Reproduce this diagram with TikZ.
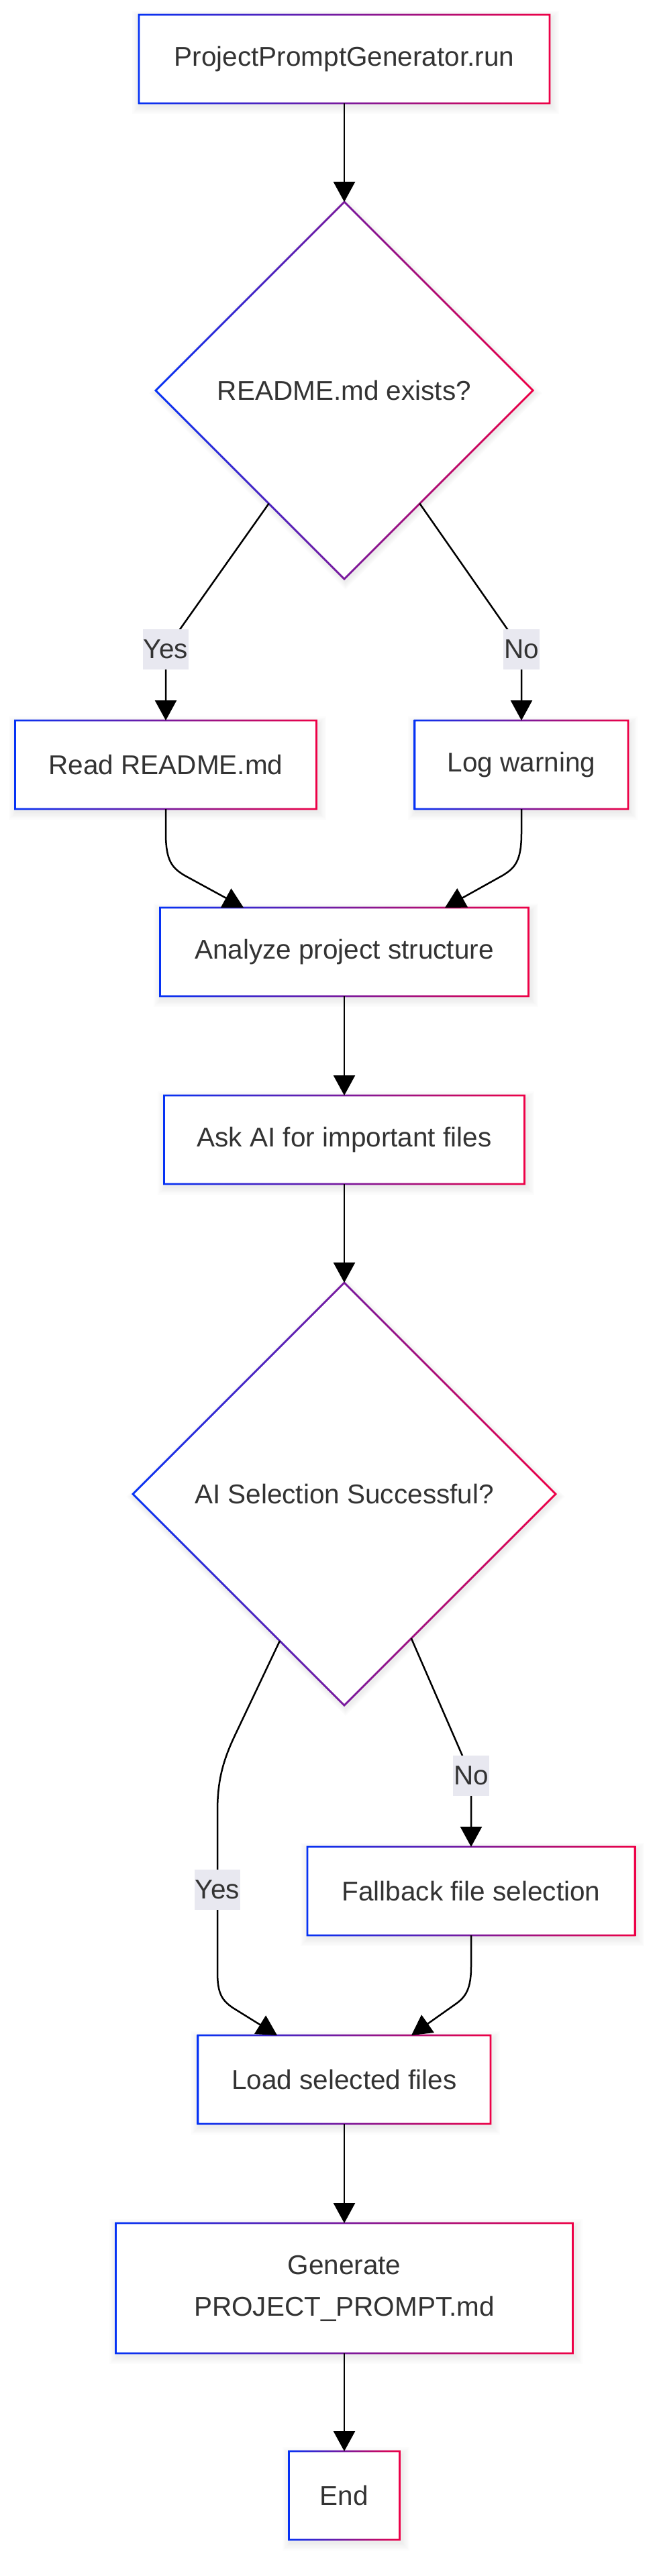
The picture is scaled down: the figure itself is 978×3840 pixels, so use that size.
\documentclass[tikz,border=0pt]{standalone}
\usepackage{fontspec}
\setmainfont{Liberation Sans}
\usetikzlibrary{arrows.meta,shapes.geometric,calc}
\definecolor{cblue}{RGB}{5,50,245}
\definecolor{cred}{RGB}{238,0,70}
\definecolor{ctext}{RGB}{51,51,51}
\definecolor{clbl}{RGB}{232,232,240}
\pgfdeclarelayer{background}
\pgfsetlayers{background,main}

\newcommand{\gradrect}[1]{%
  \foreach \s in {2,4,...,12}{%
    \fill[black,opacity=0.012] ($(#1.north west)+(-\s+2,-\s+6)$) rectangle ($(#1.south east)+(\s+2,\s+4)$);}
  \fill[white] (#1.north west) rectangle (#1.south east);
  \shade[left color=cblue,right color=cred,even odd rule]
  ($(#1.north west)+(-1.4,-1.4)$) rectangle ($(#1.south east)+(1.4,1.4)$)
  ($(#1.north west)+(1.4,1.4)$) rectangle ($(#1.south east)+(-1.4,-1.4)$);}
\newcommand{\graddia}[1]{%
  \foreach \s in {2,4,...,12}{%
    \fill[black,opacity=0.012] ($(#1.north)+(2,-\s+4)$) -- ($(#1.east)+(\s+2,4)$) -- ($(#1.south)+(2,\s+4)$) -- ($(#1.west)+(-\s+2,4)$) -- cycle;}
  \fill[white] (#1.north) -- (#1.east) -- (#1.south) -- (#1.west) -- cycle;
  \shade[left color=cblue,right color=cred,even odd rule]
  ($(#1.north)+(0,-2)$) -- ($(#1.east)+(2,0)$) -- ($(#1.south)+(0,2)$) -- ($(#1.west)+(-2,0)$) -- cycle
  ($(#1.north)+(0,2)$) -- ($(#1.east)+(-2,0)$) -- ($(#1.south)+(0,-2)$) -- ($(#1.west)+(2,0)$) -- cycle;}

\tikzset{
  txt/.style={text=ctext, font=\fontsize{40.5}{62}\selectfont},
  box/.style={txt, rectangle, inner sep=0pt, outer sep=0pt, align=center, minimum height=132pt},
  dia/.style={txt, diamond, inner sep=0pt, outer sep=0pt},
  edge/.style={line width=2.5pt, draw=black, line join=round, -{Triangle[length=30pt,width=32pt]}},
  lbl/.style={txt, fill=clbl, inner xsep=1pt, inner ysep=0pt, minimum height=60pt}
}

\begin{document}
\begin{tikzpicture}[x=1pt,y=-1pt]
\begin{pgfonlayer}{background}
\fill[white] (0,0) rectangle (978,3840);
\end{pgfonlayer}
\useasboundingbox (0,0) rectangle (978,3840);

% nodes
\node[box, minimum width=612pt] (none) at (513,88) {ProjectPromptGenerator.run};
\node[dia, minimum width=562pt, minimum height=562pt] (done) at (513,582) {README.md exists?};
\node[box, minimum width=449pt] (rr) at (247,1140) {Read README.md};
\node[box, minimum width=318pt] (lw) at (777,1140) {Log warning};
\node[box, minimum width=549pt] (ap) at (513,1419) {Analyze project structure};
\node[box, minimum width=537pt] (ai) at (513,1699) {Ask AI for important files};
\node[dia, minimum width=630pt, minimum height=630pt] (dtwo) at (513,2227) {AI Selection Successful?};
\node[box, minimum width=488pt] (fb) at (702,2819) {Fallback file selection};
\node[box, minimum width=436pt] (ls) at (513,3100) {Load selected files};
\node[box, minimum width=681pt, minimum height=194pt] (gp) at (513,3411) {Generate\\PROJECT\_PROMPT.md};
\node[box, minimum width=165pt] (en) at (513,3720) {End};

% shadows and gradient borders, behind the texts
\begin{pgfonlayer}{background}
\gradrect{none}
\graddia{done}
\gradrect{rr}
\gradrect{lw}
\gradrect{ap}
\gradrect{ai}
\graddia{dtwo}
\gradrect{fb}
\gradrect{ls}
\gradrect{gp}
\gradrect{en}
\end{pgfonlayer}

% label positions
\coordinate (y1) at (247,968);
\coordinate (no1) at (777,968);
\coordinate (y2) at (324,2817);
\coordinate (no2) at (702,2647);

% edges
\draw[edge] (none.south) -- (done.north);
\draw[edge] ($(done.south)!0.4!(done.west)$) -- (y1) -- (rr.north);
\draw[edge] ($(done.south)!0.4!(done.east)$) -- (no1) -- (lw.north);
\draw[edge] (rr.south) -- ($(rr.south)+(0,36)$) .. controls ($(rr.south)+(0,78)$) and ($(rr.south)+(10,88)$) .. ($(rr.south)+(28,99)$) -- ($(ap.north)+(-150,0)$);
\draw[edge] (lw.south) -- ($(lw.south)+(0,36)$) .. controls ($(lw.south)+(0,78)$) and ($(lw.south)+(-10,88)$) .. ($(lw.south)+(-28,99)$) -- ($(ap.north)+(150,0)$);
\draw[edge] (ap.south) -- (ai.north);
\draw[edge] (ai.south) -- (dtwo.north);
\draw[edge] ($(dtwo.south)!0.305!(dtwo.west)$) -- (350,2587) .. controls (332,2625) and (324,2655) .. (324,2700) -- (y2) -- (324,2940) .. controls (324,2972) and (331,2982) .. (347,2993) -- ($(ls.north)+(-100,0)$);
\draw[edge] ($(dtwo.south)!0.317!(dtwo.east)$) -- (no2) -- (fb.north);
\draw[edge] (fb.south) -- ($(fb.south)+(0,46)$) .. controls ($(fb.south)+(0,80)$) and ($(fb.south)+(-8,92)$) .. ($(fb.south)+(-24,103)$) -- ($(ls.north)+(100,0)$);
\draw[edge] (ls.south) -- (gp.north);
\draw[edge] (gp.south) -- (en.north);

% edge labels
\node[lbl] (ly1) at (y1) {Yes};
\node[lbl] (ln1) at (no1) {No};
\node[lbl] (ly2) at (y2) {Yes};
\node[lbl] (ln2) at (no2) {No};
\end{tikzpicture}
\end{document}
